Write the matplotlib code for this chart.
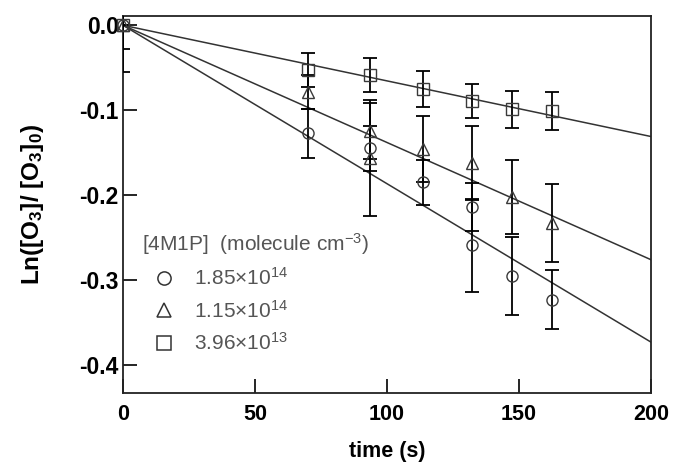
import matplotlib
matplotlib.use("Agg")
import matplotlib.pyplot as plt
import numpy as np
from matplotlib.lines import Line2D

plt.rcParams['font.family'] = ['Liberation Sans', 'DejaVu Sans']
plt.rcParams['mathtext.fontset'] = 'custom'
plt.rcParams['mathtext.rm'] = 'Liberation Sans'
plt.rcParams['mathtext.it'] = 'Liberation Sans'
plt.rcParams['mathtext.bf'] = 'Liberation Sans:bold'
plt.rcParams['axes.unicode_minus'] = False

# [4M1P] = 1.85e14 molecule cm^-3
t_c = [0, 70, 93.5, 113.5, 132, 132, 147.5, 162.5]
y_c = [0.0, -0.127, -0.145, -0.185, -0.214, -0.259, -0.295, -0.323]
e_c = [0.028, 0.029, 0.026, 0.026, 0.028, 0.055, 0.046, 0.035]

# [4M1P] = 1.15e14 molecule cm^-3
t_t = [0, 70, 93.5, 93.5, 113.5, 132, 147.5, 162.5]
y_t = [0.0, -0.079, -0.124, -0.156, -0.146, -0.162, -0.202, -0.233]
e_t = [0.055, 0.020, 0.033, 0.068, 0.039, 0.044, 0.044, 0.046]

# [4M1P] = 3.96e13 molecule cm^-3
t_s = [0, 70, 93.5, 113.5, 132, 147.5, 162.5]
y_s = [0.0, -0.053, -0.058, -0.075, -0.089, -0.099, -0.101]
e_s = [0.0, 0.020, 0.020, 0.021, 0.020, 0.022, 0.022]

# first-order decay slopes of the fitted lines (s^-1)
slopes = [-1.865e-3, -1.38e-3, -6.55e-4]

labels = [r'1.85$\times$10$^{14}$', r'1.15$\times$10$^{14}$', r'3.96$\times$10$^{13}$']
markers = ['o', '^', 's']
xticks = [0, 50, 100, 150, 200]
yticks = [0.0, -0.1, -0.2, -0.3, -0.4]

fig = plt.figure(figsize=(6.79, 4.67), dpi=100)
ax = fig.add_axes([0.181, 0.158, 0.778, 0.808])

series = [(t_c, y_c, e_c), (t_t, y_t, e_t), (t_s, y_s, e_s)]

# fitted lines through the origin
tfit = np.array([0, 200])
for k in slopes:
    ax.plot(tfit, k * tfit, color='#333333', lw=1.1, zorder=2)

handles = []
for (t, y, e), m in zip(series, markers):
    ax.errorbar(t, y, yerr=e, fmt='none', ecolor='black', elinewidth=1.3,
                capsize=4.7, capthick=1.3, zorder=3)
    ax.plot(t, y, linestyle='none', marker=m, markersize=8 if m != '^' else 8.5,
            markerfacecolor='none', markeredgecolor='#3a3a3a',
            markeredgewidth=1.0, clip_on=False, zorder=4)
    handles.append(Line2D([], [], linestyle='none', marker=m, markersize=9.5,
                          markerfacecolor='none', markeredgecolor='#333333',
                          markeredgewidth=1.1))

ax.set_xlim(0, 200)
ax.set_ylim(-0.433, 0.011)
ax.set_xticks(xticks)
ax.set_yticks(yticks)
ax.set_xticklabels([str(v) for v in xticks], fontweight='bold', fontsize=15.5)
ax.set_yticklabels([f'{v:.1f}' for v in yticks], fontweight='bold', fontsize=16.5)
ax.tick_params(axis='both', direction='in', length=10, width=1.2, color='black')
ax.tick_params(axis='x', pad=8)
ax.tick_params(axis='y', pad=3)
for sp in ax.spines.values():
    sp.set_linewidth(1.3)
    sp.set_color('#222222')

ax.set_xlabel('time (s)', fontweight='bold', fontsize=15.5, labelpad=11)
ax.set_ylabel(r'Ln([O$_\mathbf{3}$]/ [O$_\mathbf{3}$]$_\mathbf{0}$)',
              fontweight='bold', fontsize=17.5, labelpad=24)

leg = ax.legend(handles, labels, title=r'[4M1P]  (molecule cm$^{-3}$)',
                loc='upper left', bbox_to_anchor=(0.036, 0.43), frameon=False,
                fontsize=15, title_fontsize=15, handlelength=2.1,
                handletextpad=0.4, labelspacing=0.5, borderaxespad=0,
                borderpad=0, alignment='left')
for txt in leg.get_texts():
    txt.set_color('#555555')
leg.get_title().set_color('#555555')

fig.savefig('out.png', dpi=100)
